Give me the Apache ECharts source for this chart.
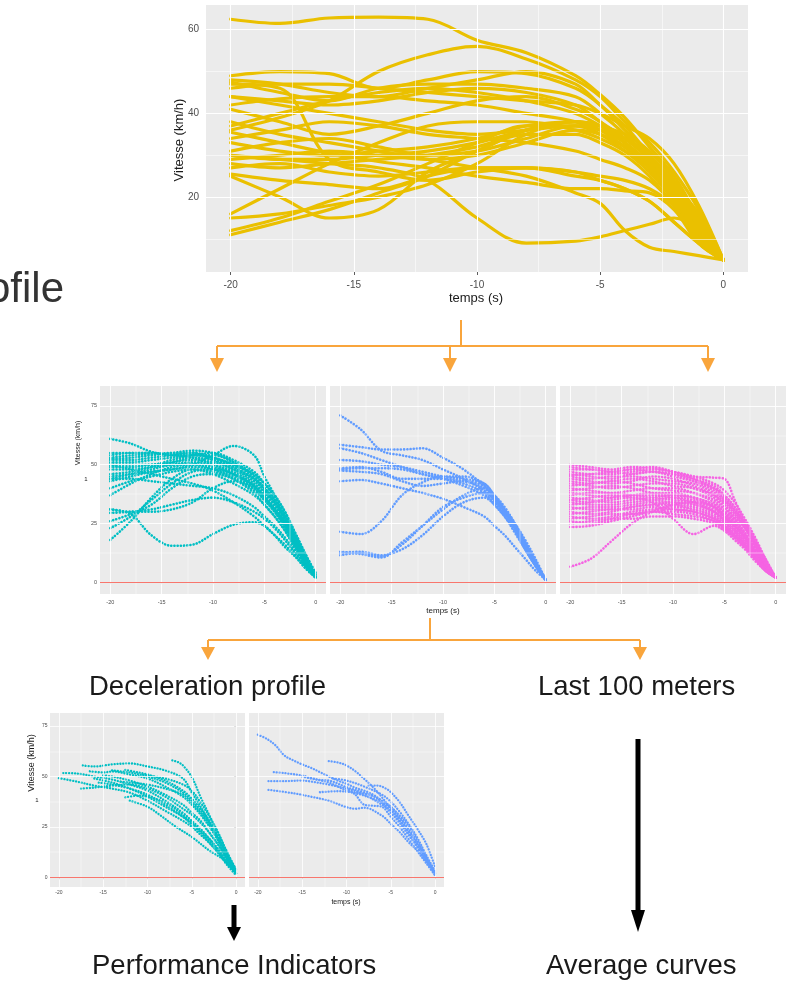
<!DOCTYPE html>
<html><head><meta charset="utf-8">
<script src="https://cdn.jsdelivr.net/npm/echarts@6/dist/echarts.min.js"></script>
<style>html,body{margin:0;padding:0;background:#fff}#c{width:792px;height:982px}</style>
</head><body><div id="c"></div>
<script>
// ---------- DATA ----------
const tGrid = [-20,-18,-16,-14,-12,-10,-8,-6,-5,-4,-3,-2,-1,0];
const xTicks = [-20,-15,-10,-5,0];
const xMinor = [-17.5,-12.5,-7.5,-2.5];
const yTicksTop = [20,40,60];
const yMinorTop = [10,30,50];
const yTicksFacet = [0,25,50,75];
const yMinorFacet = [12.5,37.5,62.5];

const yellowCurves = [
 [62.5,61.5,62.8,63,62.5,57.5,54.5,49,44.5,39,32,25,15,5],
 [36,39,43,50,54,56,53,48,44,38,33,26,17,5],
 [49,50,49.5,46,48,50,49.5,46,42,36,30,23,16,5],
 [48,47,45,44,46,48,50,47,42,37,30,22,13,5],
 [47.5,45,43,46,47,47,46,44,40,35,29,22,13,5],
 [44,43,42,43,45,46,45,42,38,34,29,22,13,5],
 [42,43.5,44,44,43,42,40,38,35,32,27,19,10,5],
 [41,38,35,37,40,43,44,41,38,33,28,21,13,5],
 [37,40,43,45,46,45,43,40,37,33,28,22,14,5],
 [35.5,33,30.5,28.5,27,25,23.5,22,22,21.5,21,17,9,5],
 [34,36,38,37,35,34,33,31,29,27,24,18,9,5],
 [33,31,30,31,32,34,37,38,36,33,28,22,13,5],
 [31,33,34,32,30,31,34,37,37,34,29,22,13,5],
 [30,29,29,30,31,33,36,38,37,33,27,20,12,5],
 [29,30,31,30,29,30,33,36,35,32,27,21,12,5],
 [28,27,28,29,30,32,35,35,33,30,25,18,11,5],
 [27,28,26,25,26,27,27,26,25,24,22,18,12,5],
 [25.5,24,23,22,25,27,27,26,24,22,19,14,9,5],
 [11,14,17,21,25,31,36,38,37,34,29,22,13,5],
 [12,15,19,23,28,33,37,37,35,31,26,19,11,5],
 [15,16,18,20,23,28,35,38,37,35,31,24,14,5],
 [16,22,28,33,37,38,38,36,34,31,27,20,10,5],
 [25,20,15,17,26,31,36,38,36,32,27,20,12,5],
 [30,29,28,27,24,15,9,9.5,10.5,12,13.5,15,12,5],
 [38,35,33,31,29,27,25,21,18.5,12,8,7,6,5],
 [47,46,29,26,24,26,27,25,24,22,19,14,9,5],
 [44,42,40,38,36,35,36,37,36,34,30,23,13,5],
 [46,47,47,46,45,44,43,42,40,37,34,28,18,5]
];

const tealCurves = [
 [61,59,55.5,54,54,53,50,45,40,34,26,17,9,2],
 [45,46,47,48,50,54,58,54,45,37,27,18,10,3],
 [31,29,20,15.5,16,20.5,24.5,25.5,24,20,16,11,6,2],
 [18,26,36,44,48,47,44,39,35,30,24,16,8,2],
 [23,28,35,42,47,48,46,41,36,31,24,16,8,2],
 [26,29,33,40,45,46,44,40,36,31,25,17,9,3],
 [29.5,30,31,33,35,36,34,30,27,23,18,12,6,2],
 [31,30,30,31,34,40,43,40,36,31,25,17,9,2],
 [37,42,46,49,50,49,46,41,37,32,25,17,9,2],
 [40,43,45,47,48,46,42,37,33,28,22,14,7,2],
 [43,45,47,48,49,48,45,40,35,30,23,15,8,2],
 [44,46,48,50,51,50,47,42,38,33,26,18,10,3],
 [46,47,49,51,52,51,48,44,39,34,27,19,10,3],
 [48,48,49,50,50,48,44,38,33,28,22,15,8,2],
 [49,49,50,51,53,52,49,44,40,35,28,20,11,3],
 [50,50,50,52,54,55,52,47,42,36,29,20,11,3],
 [51,51,52,53,54,54,51,46,42,37,30,21,12,4],
 [52,52,53,54,55,53,50,46,42,37,30,21,12,3],
 [52.5,53,54,55,55,52,48,43,39,34,27,19,10,3],
 [53,54,54.5,55,56,55,51,45,40,35,28,19,10,2],
 [54,55,55,54,53,50,46,41,36,31,25,17,9,2],
 [55,55,55,54.5,55,53,49,44,40,35,28,20,11,3],
 [50,48,46,44,42,39,34,28,24,20,15,11,7,2],
 [44,44,43,42,41,40,37,32,28,24,19,13,7,2]
];

const blueCurves = [
 [71,65,56,54,52,48,44,39,35,30,24,17,9,1],
 [58.5,57.5,56.5,56.5,57,53,48,41,36,31,25,18,10,1],
 [57,55,52,49,46,44,41,37,34,29,23,16,8,1],
 [52,51.5,50,49,47,45,44,42,37,31,24,16,8,1],
 [48,48.5,48.5,48,46,44,42,38,33,28,22,14,7,1],
 [47.5,47,46,43,41,42,43,41,36,30,23,15,7,1],
 [43,43.5,42,40,38,35.5,32,28,24,20,15,10,5,1],
 [21.5,20.5,26,37,42.5,45,45,42,37,31,24,16,8,1],
 [13,12,10.5,17,24,31,37,40,37,32,25,17,9,1],
 [11.5,12.5,11,16,24,32,36,38,35,30,23,15,8,1],
 [12.5,13,11.5,14,20,28,34,36,33,28,21,14,7,1],
 [48.5,49,47,44,44,44,43,40,35,29,22,14,7,1]
];

const magentaCurves = [
 [50,49,48,49,48.5,47,45,44.5,44,35,25,15,8,2],
 [6.6,10,17.5,25,30,33,34,32,28,24,19,13,7,2],
 [35,36,37,36,34,27,20.5,24,22,19,15,10,6,2],
 [48,48,47,48,49,47,44,40,37,32,26,18,10,2],
 [47,46,46,47,48,47,45,42,39,34,27,19,10,2],
 [46,45,44,46,47,45,43,40,36,31,25,17,9,2],
 [45,44,45,45,44,43,42,38,35,30,24,16,8,2],
 [44,43,42,43,45,44,41,37,33,28,23,15,8,2],
 [43,42,43,44,43,41,40,37,34,29,23,16,8,2],
 [42,41,40,41,42,42,40,36,32,27,21,14,7,2],
 [41,42,43,42,40,39,38,35,31,27,21,14,7,2],
 [40,39,38,39,40,40,38,34,30,26,20,13,7,2],
 [39,40,41,40,38,37,36,33,29,25,19,13,6,2],
 [38,37,36,37,38,38,36,32,29,25,20,13,7,2],
 [37,38,38,37,36,35,34,31,28,24,19,12,6,2],
 [36,35,34,35,36,37,36,33,30,26,20,13,7,2],
 [35,34,35,36,35,34,33,30,27,23,18,12,6,2],
 [34,33,33,34,35,36,35,32,28,24,19,13,6,2],
 [33,34,36,37,37,36,34,30,26,22,17,11,6,2],
 [32,31,31,32,33,34,33,30,27,23,18,12,6,2],
 [31,32,32,33,34,33,31,28,25,21,16,11,6,2],
 [30,29,30,32,33,33,32,29,26,22,17,11,5,2],
 [29,30,31,31,32,31,30,27,24,20,16,10,5,2],
 [28,27,28,30,31,32,31,28,25,21,16,10,5,2],
 [27,28,29,29,30,29,28,26,23,19,15,10,5,2],
 [26,25,27,29,30,30,29,26,23,20,15,10,5,2],
 [25,26,27,27,28,28,27,25,22,18,14,9,5,2],
 [23.5,24,26,28,30,31,30,27,24,20,15,10,5,2],
 [49,48,47,46,47,46,44,41,37,32,25,17,9,2],
 [45.5,46,47,48,47,46,43,39,35,30,24,16,8,2]
];

// [time, speed] pairs: curves of the "deceleration profile" subset
const tealDecelCurves = [
 [[-20,49.2],[-18,47.5],[-16,45.5],[-14,44],[-12,42],[-10,38],[-8,33],[-6,28],[-5,25],[-4,21],[-3,17],[-2,12],[-1,7],[0,2]],
 [[-19.5,51.7],[-18,51.5],[-16,50],[-14,48.5],[-12,46],[-10,43],[-8,38],[-6,32],[-5,28],[-4,24],[-3,19],[-2,13],[-1,7],[0,2]],
 [[-17.3,55.5],[-16,55],[-14,56],[-12,56.5],[-10,55],[-8,53],[-6,49],[-5,42],[-4,35],[-3,27],[-2,18],[-1,9],[0,2]],
 [[-7.2,58],[-6.5,57],[-6,55.5],[-5,49.7],[-4,39.7],[-3,30.6],[-2,21.5],[-1,12.4],[0,3.3]],
 [[-16.5,52.6],[-15,52],[-14,52.5],[-12,51],[-10,49],[-8,45],[-6,40],[-5,36],[-4,31],[-3,25],[-2,18],[-1,10],[0,3]],
 [[-17.5,44],[-16,44.5],[-14,45.5],[-12,46],[-10,44],[-8,40],[-6,34],[-5,31],[-4,27],[-3,22],[-2,16],[-1,9],[0,2]],
 [[-12.5,39.7],[-11,40.5],[-10,40],[-8,37],[-6,31],[-5,27],[-4,23],[-3,18],[-2,13],[-1,7],[0,2]],
 [[-12.5,53.3],[-11,52],[-10,51],[-8,48],[-6,43],[-5,39],[-4,34],[-3,28],[-2,20],[-1,11],[0,3]],
 [[-15,50.5],[-14,50],[-12,48],[-10,45],[-8,41],[-6,36],[-5,32],[-4,28],[-3,22],[-2,16],[-1,9],[0,2]],
 [[-12,38],[-10,35],[-8.5,30.6],[-7,25.7],[-5,20],[-3,13.2],[-1.5,9],[0,2]],
 [[-15.5,47],[-14,46],[-12,44],[-10,41],[-8,36],[-6,30],[-5,27],[-4,23],[-3,19],[-2,14],[-1,8],[0,2]],
 [[-14,53],[-12,52],[-10,50],[-8,47],[-6,42],[-5,38],[-4,33],[-3,27],[-2,20],[-1,11],[0,3]],
 [[-13,47.5],[-12,47],[-10,46],[-8,44],[-6,41],[-5,37],[-4,32],[-3,26],[-2,19],[-1,11],[0,3]],
 [[-10.5,51],[-10,50.5],[-8,49],[-6,46],[-5,43],[-4,37],[-3,30],[-2,22],[-1,12],[0,4]],
 [[-16,49],[-14,47],[-12,44],[-10,40],[-8,35],[-6,30],[-5,26],[-4,22],[-3,17],[-2,12],[-1,6],[0,1]]
];

const blueDecelCurves = [
 [[-20,70.7],[-19,68.7],[-18,65.4],[-17,60.4],[-16,58],[-15,56],[-14,54.3],[-13,52.2],[-12,50],[-11,48],[-10,46.4],[-9,44.4],[-8,43],[-7,41],[-6,38],[-5,34.8],[-4,30.6],[-3,25.7],[-2,18.2],[-1,10],[0,2]],
 [[-12,57.6],[-11,57],[-10,55.5],[-9,52.6],[-8,48.8],[-7,44.7],[-6,39.7],[-5,34],[-4,28],[-3,22.4],[-2,16.6],[-1,10],[0,2]],
 [[-18.2,52.2],[-17,51.7],[-15,50.5],[-14,49.3],[-13,48.3],[-12,48],[-10,44.7],[-8,42],[-6,38],[-5,35],[-4,30],[-3,24],[-2,17],[-1,9],[0,2]],
 [[-18.8,47.7],[-17,47.7],[-15,48],[-14,47.5],[-12,46],[-10,44],[-8,41],[-6,36],[-5,33],[-4,28],[-3,22],[-2,15],[-1,8],[0,2]],
 [[-18.8,43.4],[-16,41.7],[-14,40],[-12,38],[-10,34.8],[-9,34],[-8,34.5],[-6,30.6],[-5,26.5],[-4,22.4],[-3,17.4],[-2,13.2],[-1,8],[0,2]],
 [[-15,50],[-14,49],[-12,47],[-10,43],[-8,40.5],[-6,37],[-5,34],[-4,29],[-3,23],[-2,16],[-1,8],[0,1]],
 [[-7.5,45.5],[-6.5,45.5],[-5.5,43.9],[-5,42.2],[-4,37.3],[-3,30.6],[-2,24],[-1,16.6],[0,5]],
 [[-13,42.2],[-11,42.7],[-9,42],[-7,40.6],[-6,37],[-5,32],[-4,27],[-3,21],[-2,15],[-1,8],[0,2]],
 [[-11.5,49],[-10,48],[-8,45],[-6,41],[-5,37.5],[-4,32.5],[-3,26.5],[-2,19.5],[-1,11],[0,3]],
 [[-10,44],[-9,41],[-8,36],[-7,35.5],[-6,35],[-5,30],[-4,25],[-3,19],[-2,13],[-1,7],[0,1]]
];

// ---------- STYLE / LAYOUT ----------
const FONT = '"Liberation Sans", Arial, sans-serif';
const YELLOW = '#EAC000', TEAL = '#00BFC4', BLUE = '#619CFF', MAGENTA = '#F564E3', RED = '#F8766D';
const ORANGE = '#F9A53C';

const panels = [
 {left:206, top:5,   width:542, height:267, ymin:2.1, ymax:65.9, yt:yTicksTop, ym:yMinorTop, showY:true, fs:10, xm:8, ymg:7, tl:3, majW:1.1, minW:0.55},
 {left:100, top:386, width:226, height:208, ymin:-5, ymax:83.5, yt:yTicksFacet, ym:yMinorFacet, showY:true, fs:5.5, xm:5, ymg:3, tl:2, majW:0.9, minW:0.45},
 {left:330, top:386, width:226, height:208, ymin:-5, ymax:83.5, yt:yTicksFacet, ym:yMinorFacet, showY:false, fs:5.5, xm:5, ymg:3, tl:2, majW:0.9, minW:0.45},
 {left:560, top:386, width:226, height:208, ymin:-5, ymax:83.5, yt:yTicksFacet, ym:yMinorFacet, showY:false, fs:5.5, xm:5, ymg:3, tl:2, majW:0.9, minW:0.45},
 {left:50,  top:713, width:195, height:174, ymin:-4.8, ymax:81.5, yt:yTicksFacet, ym:yMinorFacet, showY:true, fs:5, xm:3.5, ymg:2.5, tl:2, majW:0.8, minW:0.4},
 {left:249, top:713, width:195, height:174, ymin:-4.8, ymax:81.5, yt:yTicksFacet, ym:yMinorFacet, showY:false, fs:5, xm:3.5, ymg:2.5, tl:2, majW:0.8, minW:0.4}
];

const grids = [], xAxes = [], yAxes = [], series = [];
panels.forEach((p, i) => {
  grids.push({left:p.left, top:p.top, width:p.width, height:p.height, show:true,
    backgroundColor:'#EBEBEB', borderWidth:0, containLabel:false, outerBoundsMode:'none'});
  xAxes.push({type:'value', gridIndex:i, min:-21, max:1,
    axisLine:{show:false}, splitLine:{show:false},
    axisTick:{show:true, customValues:xTicks, length:p.tl, lineStyle:{color:'#333', width:0.8}},
    axisLabel:{show:true, customValues:xTicks, fontSize:p.fs, fontFamily:FONT, color:'#4D4D4D', margin:p.xm}});
  yAxes.push({type:'value', gridIndex:i, min:p.ymin, max:p.ymax,
    axisLine:{show:false}, splitLine:{show:false},
    axisTick:{show:p.showY, customValues:p.yt, length:p.tl, lineStyle:{color:'#333', width:0.8}},
    axisLabel:{show:p.showY, customValues:p.yt, fontSize:p.fs, fontFamily:FONT, color:'#4D4D4D', margin:p.ymg}});
  const mk = (key, vals, w) => vals.map(v => ({[key]: v, lineStyle:{color:'#FFFFFF', width:w, type:'solid'}}));
  series.push({type:'line', xAxisIndex:i, yAxisIndex:i, data:[], z:1, silent:true, animation:false,
    markLine:{silent:true, animation:false, symbol:['none','none'], label:{show:false}, emphasis:{disabled:true},
      lineStyle:{type:'solid', color:'#fff'},
      data:[...mk('xAxis', xMinor, p.minW), ...mk('yAxis', p.ym, p.minW), ...mk('xAxis', xTicks, p.majW), ...mk('yAxis', p.yt, p.majW)]}});
  if (i > 0) {
    series.push({type:'line', xAxisIndex:i, yAxisIndex:i, data:[], z:4, silent:true, animation:false,
      markLine:{silent:true, animation:false, symbol:['none','none'], label:{show:false}, emphasis:{disabled:true},
        data:[{yAxis:0, lineStyle:{color:RED, width:1, type:'solid'}}]}});
  }
});

function curve(i, pts, color, width, dotted, gap) {
  return {type:'line', xAxisIndex:i, yAxisIndex:i, data:pts, showSymbol:false, symbol:'none',
    smooth:0.35, z:2, silent:true, animation:false,
    lineStyle: dotted ? {color, width, type:[0.1, gap], cap:'round'} : {color, width, cap:'round', join:'round'}};
}
const onGrid = v => tGrid.map((t, k) => [t, v[k]]);
yellowCurves.forEach(v => series.push(curve(0, onGrid(v), YELLOW, 3.2, false)));
tealCurves.forEach(v => series.push(curve(1, onGrid(v), TEAL, 2.6, true, 3.1)));
blueCurves.forEach(v => series.push(curve(2, onGrid(v), BLUE, 2.6, true, 3.1)));
magentaCurves.forEach(v => series.push(curve(3, onGrid(v), MAGENTA, 2.6, true, 3.1)));
tealDecelCurves.forEach(v => series.push(curve(4, v, TEAL, 2.3, true, 2.8)));
blueDecelCurves.forEach(v => series.push(curve(5, v, BLUE, 2.3, true, 2.8)));

// ---------- ANNOTATIONS ----------
const txt = (text, x, y, size, opts) => Object.assign({type:'text', x, y, silent:true, z:10,
  style:{text, fontSize:size, fontFamily:FONT, fill:'#1A1A1A', align:'left', verticalAlign:'middle'}}, opts || {});
const ctxt = (text, x, y, size, fill) => ({type:'text', x, y, silent:true, z:10,
  style:{text, fontSize:size, fontFamily:FONT, fill:fill || '#1A1A1A', align:'center', verticalAlign:'middle'}});
const seg = (pts, color, w) => ({type:'polyline', silent:true, z:10, shape:{points:pts}, style:{stroke:color, lineWidth:w, fill:null}});
const head = (pts, color) => ({type:'polygon', silent:true, z:10, shape:{points:pts}, style:{fill:color, stroke:null}});
const rot = (text, x, y, size) => ({type:'text', x, y, rotation:Math.PI/2, silent:true, z:10,
  style:{text, fontSize:size, fontFamily:FONT, fill:'#1A1A1A', align:'center', verticalAlign:'middle'}});

const graphic = [
  // axis titles
  rot('Vitesse (km/h)', 179, 140, 13),
  ctxt('temps (s)', 476, 298, 13),
  rot('Vitesse (km/h)', 78.5, 443, 7),
  ctxt('1', 86, 479, 6),
  ctxt('temps (s)', 443, 611, 8),
  rot('Vitesse (km/h)', 32, 763, 9),
  ctxt('1', 37, 800, 6),
  ctxt('temps (s)', 346, 902, 7),
  // big labels
  txt('ofile', -13, 290, 42, {style:{text:'ofile', fontSize:42, fontFamily:FONT, fill:'#333333', align:'left', verticalAlign:'middle'}}),
  txt('Deceleration profile', 89, 687, 27.5),
  txt('Last 100 meters', 538, 687, 27.5),
  txt('Performance Indicators', 92, 966, 27.5),
  txt('Average curves', 546, 966, 27.5),
  // orange arrows (top split)
  seg([[461,320],[461,346]], ORANGE, 2),
  seg([[217,346],[708,346]], ORANGE, 2),
  seg([[217,346],[217,359]], ORANGE, 2),
  seg([[450,346],[450,359]], ORANGE, 2),
  seg([[708,346],[708,359]], ORANGE, 2),
  head([[210,358],[224,358],[217,372]], ORANGE),
  head([[443,358],[457,358],[450,372]], ORANGE),
  head([[701,358],[715,358],[708,372]], ORANGE),
  // orange arrows (second split)
  seg([[430,618],[430,640]], ORANGE, 2),
  seg([[208,640],[640,640]], ORANGE, 2),
  seg([[208,640],[208,648]], ORANGE, 2),
  seg([[640,640],[640,648]], ORANGE, 2),
  head([[201,647],[215,647],[208,660]], ORANGE),
  head([[633,647],[647,647],[640,660]], ORANGE),
  // black arrows
  seg([[234,905],[234,928]], '#000', 5),
  head([[227,927],[241,927],[234,941]], '#000'),
  seg([[638,739],[638,912]], '#000', 5),
  head([[631,910],[645,910],[638,932]], '#000')
];

const chart = echarts.init(document.getElementById('c'), null, {renderer:'canvas', width:792, height:982});
chart.setOption({animation:false, backgroundColor:'#FFFFFF', grid:grids, xAxis:xAxes, yAxis:yAxes, series, graphic});
</script></body></html>
